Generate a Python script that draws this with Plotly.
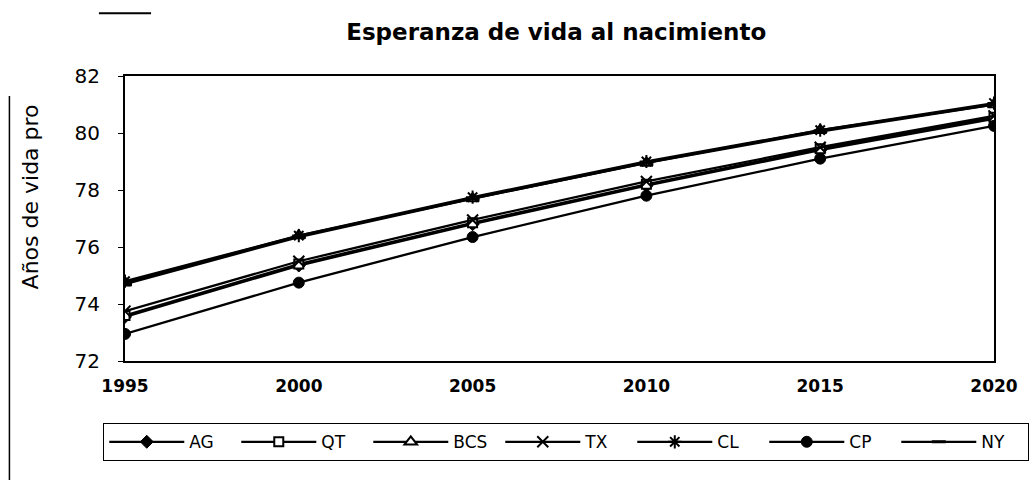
import plotly.graph_objects as go

# Esperanza de vida al nacimiento por entidad, 1995-2020
years = [1995, 2000, 2005, 2010, 2015, 2020]
ag = [73.55, 75.35, 76.80, 78.15, 79.40, 80.50]
qt = [73.60, 75.40, 76.85, 78.20, 79.45, 80.55]
bcs = [74.75, 76.40, 77.70, 78.95, 80.10, 81.00]
tx = [73.75, 75.50, 76.95, 78.30, 79.50, 80.60]
cl = [74.80, 76.40, 77.75, 79.00, 80.10, 81.05]
cp = [72.95, 74.75, 76.35, 77.80, 79.10, 80.25]
ny = [74.70, 76.35, 77.70, 78.95, 80.05, 81.00]

series_names = ["AG", "QT", "BCS", "TX", "CL", "CP", "NY"]
series_values = [ag, qt, bcs, tx, cl, cp, ny]

y_ticks = [72, 74, 76, 78, 80, 82]

# marker style for each entity: (symbol, size, fill colour, outline width)
marker_styles = {
    "AG": ("diamond", 10, "black", 1),
    "QT": ("square", 9, "white", 2),
    "BCS": ("triangle-up", 11, "white", 2),
    "TX": ("x-thin", 11, "black", 2),
    "CL": ("asterisk", 11, "black", 2),
    "CP": ("circle", 11, "black", 1),
    "NY": ("line-ew", 10, "black", 3),
}

fig = go.Figure()
for name, vals in zip(series_names, series_values):
    sym, size, fill, lw = marker_styles[name]
    fig.add_trace(go.Scatter(
        x=years, y=vals, name=name, mode="lines+markers",
        line=dict(color="black", width=2.3),
        marker=dict(symbol=sym, size=size, color=fill,
                    line=dict(color="black", width=lw)),
    ))

fig.update_layout(
    width=1030, height=480,
    margin=dict(l=125, r=30, t=76, b=119),
    paper_bgcolor="white", plot_bgcolor="white",
    font=dict(family="DejaVu Sans", color="black"),
    title=dict(text="<b>Esperanza de vida al nacimiento</b>",
               font=dict(family="DejaVu Sans", size=23, color="black"),
               x=0.54, xanchor="center", y=0.933, yanchor="middle"),
    xaxis=dict(range=[1995, 2020], tickvals=years,
               ticktext=[f"<b>{y}</b>" for y in years],
               tickfont=dict(size=17), showgrid=False, zeroline=False,
               showline=True, linecolor="black", linewidth=2, mirror=True,
               ticks="", ticklabelstandoff=9),
    yaxis=dict(range=[72, 82], tickvals=y_ticks, tickfont=dict(size=20),
               showgrid=False, zeroline=False,
               showline=True, linecolor="black", linewidth=2, mirror=True,
               ticks="outside", ticklen=5, tickcolor="black",
               ticklabelstandoff=14),
    legend=dict(orientation="h", x=-0.025, xanchor="left",
                y=-0.285, yanchor="middle",
                bordercolor="black", borderwidth=1,
                font=dict(size=17), itemwidth=75,
                entrywidth=42, entrywidthmode="pixels",
                tracegroupgap=0),
    showlegend=True,
)

# y-axis caption, placed above the plot's midline
fig.add_annotation(text="Años de vida pro", textangle=-90,
                   xref="paper", yref="paper", x=-0.109, y=0.575,
                   xanchor="center", yanchor="middle", showarrow=False,
                   font=dict(family="DejaVu Sans", size=22, color="black"))

# scanned-page edge marks
fig.add_shape(type="line", xref="paper", yref="paper",
              x0=-0.03, x1=0.03, y0=1.22, y1=1.22,
              line=dict(color="black", width=2))
fig.add_shape(type="line", xref="paper", yref="paper",
              x0=-0.133, x1=-0.133, y0=0.93, y1=-0.42,
              line=dict(color="black", width=1.5))

fig.write_html("out.html")
